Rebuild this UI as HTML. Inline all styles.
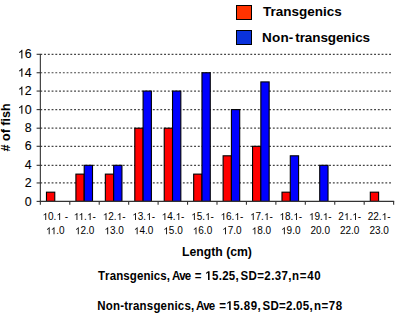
<!DOCTYPE html>
<html><head><meta charset="utf-8"><style>
html,body{margin:0;padding:0;background:#fff;}
body{width:396px;height:313px;overflow:hidden;}
svg{display:block;}
text{font-family:"Liberation Sans",sans-serif;fill:#000;}
.yl{font-size:12.4px;stroke:#000;stroke-width:0.1px;}
.xl{font-size:10px;}
.b{font-weight:bold;}
.h{fill:transparent;stroke:none;}
.o1{fill:#000;stroke:#000;stroke-width:0.12px;}
.o1y{fill:#000;stroke:#000;stroke-width:0.1px;}
.bt{font-size:12.5px;font-kerning:none;}
</style></head><body>
<svg width="396" height="313" viewBox="0 0 396 313">
<rect x="236.5" y="5.5" width="15" height="14" fill="#ff3300" stroke="#000" stroke-width="1"/>
<rect x="236.5" y="30.5" width="15" height="14" fill="#0a32dc" stroke="#000" stroke-width="1"/>
<text x="263.1" y="16" class="b" style="font-size:13.5px">Transgenics</text>
<text x="262" y="42.3" class="b" style="font-size:13.5px;letter-spacing:0.2px">Non-<tspan x="295.3" style="letter-spacing:-0.1px">transgenics</tspan></text>
<text transform="translate(10.2,151.4) rotate(-90)" class="b" style="font-size:12.5px"># of fish</text>
<line x1="40.35" y1="182.95" x2="391.2" y2="182.95" stroke="#444" stroke-width="1.2" stroke-dasharray="1.875 1.875"/>
<line x1="40.35" y1="165.3" x2="391.2" y2="165.3" stroke="#444" stroke-width="1.2" stroke-dasharray="1.875 1.875"/>
<line x1="40.35" y1="146.3" x2="391.2" y2="146.3" stroke="#444" stroke-width="1.2" stroke-dasharray="1.875 1.875"/>
<line x1="40.35" y1="128.2" x2="391.2" y2="128.2" stroke="#444" stroke-width="1.2" stroke-dasharray="1.875 1.875"/>
<line x1="40.35" y1="109.6" x2="391.2" y2="109.6" stroke="#444" stroke-width="1.2" stroke-dasharray="1.875 1.875"/>
<line x1="40.35" y1="91.06" x2="391.2" y2="91.06" stroke="#444" stroke-width="1.2" stroke-dasharray="1.875 1.875"/>
<line x1="40.35" y1="72.75" x2="391.2" y2="72.75" stroke="#444" stroke-width="1.2" stroke-dasharray="1.875 1.875"/>
<line x1="40.35" y1="54.3" x2="391.2" y2="54.3" stroke="#444" stroke-width="1.2" stroke-dasharray="1.875 1.875"/>
<rect x="46.47" y="192.18" width="8.30" height="9.22" fill="#ff0000" stroke="#000" stroke-width="1.1"/>
<rect x="75.91" y="174.12" width="8.30" height="27.28" fill="#ff0000" stroke="#000" stroke-width="1.1"/>
<rect x="84.21" y="165.30" width="8.30" height="36.10" fill="#0000ff" stroke="#000" stroke-width="1.1"/>
<rect x="105.35" y="174.12" width="8.30" height="27.28" fill="#ff0000" stroke="#000" stroke-width="1.1"/>
<rect x="113.65" y="165.30" width="8.30" height="36.10" fill="#0000ff" stroke="#000" stroke-width="1.1"/>
<rect x="134.79" y="128.20" width="8.30" height="73.20" fill="#ff0000" stroke="#000" stroke-width="1.1"/>
<rect x="143.09" y="91.06" width="8.30" height="110.34" fill="#0000ff" stroke="#000" stroke-width="1.1"/>
<rect x="164.23" y="128.20" width="8.30" height="73.20" fill="#ff0000" stroke="#000" stroke-width="1.1"/>
<rect x="172.53" y="91.06" width="8.30" height="110.34" fill="#0000ff" stroke="#000" stroke-width="1.1"/>
<rect x="193.67" y="174.12" width="8.30" height="27.28" fill="#ff0000" stroke="#000" stroke-width="1.1"/>
<rect x="201.97" y="72.75" width="8.30" height="128.65" fill="#0000ff" stroke="#000" stroke-width="1.1"/>
<rect x="223.11" y="155.80" width="8.30" height="45.60" fill="#ff0000" stroke="#000" stroke-width="1.1"/>
<rect x="231.41" y="109.60" width="8.30" height="91.80" fill="#0000ff" stroke="#000" stroke-width="1.1"/>
<rect x="252.55" y="146.30" width="8.30" height="55.10" fill="#ff0000" stroke="#000" stroke-width="1.1"/>
<rect x="260.85" y="81.91" width="8.30" height="119.50" fill="#0000ff" stroke="#000" stroke-width="1.1"/>
<rect x="281.99" y="192.18" width="8.30" height="9.22" fill="#ff0000" stroke="#000" stroke-width="1.1"/>
<rect x="290.29" y="155.80" width="8.30" height="45.60" fill="#0000ff" stroke="#000" stroke-width="1.1"/>
<rect x="319.73" y="165.30" width="8.30" height="36.10" fill="#0000ff" stroke="#000" stroke-width="1.1"/>
<rect x="370.31" y="192.18" width="8.30" height="9.22" fill="#ff0000" stroke="#000" stroke-width="1.1"/>
<line x1="40.35" y1="54" x2="40.35" y2="204.8" stroke="#333" stroke-width="1.1"/>
<line x1="39.85" y1="201.4" x2="394.13" y2="201.4" stroke="#333" stroke-width="1.1"/>
<line x1="36.6" y1="201.4" x2="40.65" y2="201.4" stroke="#333" stroke-width="1.1"/>
<text x="31.6" y="205.50" text-anchor="end" class="yl one">0</text>
<line x1="36.6" y1="182.95" x2="40.65" y2="182.95" stroke="#333" stroke-width="1.1"/>
<text x="31.6" y="187.05" text-anchor="end" class="yl one">2</text>
<line x1="36.6" y1="165.3" x2="40.65" y2="165.3" stroke="#333" stroke-width="1.1"/>
<text x="31.6" y="169.40" text-anchor="end" class="yl one">4</text>
<line x1="36.6" y1="146.3" x2="40.65" y2="146.3" stroke="#333" stroke-width="1.1"/>
<text x="31.6" y="150.40" text-anchor="end" class="yl one">6</text>
<line x1="36.6" y1="128.2" x2="40.65" y2="128.2" stroke="#333" stroke-width="1.1"/>
<text x="31.6" y="132.30" text-anchor="end" class="yl one">8</text>
<line x1="36.6" y1="109.6" x2="40.65" y2="109.6" stroke="#333" stroke-width="1.1"/>
<text x="31.6" y="113.70" text-anchor="end" class="yl one"><tspan class="h">1</tspan>0</text>
<line x1="36.6" y1="91.06" x2="40.65" y2="91.06" stroke="#333" stroke-width="1.1"/>
<text x="31.6" y="95.16" text-anchor="end" class="yl one"><tspan class="h">1</tspan>2</text>
<line x1="36.6" y1="72.75" x2="40.65" y2="72.75" stroke="#333" stroke-width="1.1"/>
<text x="31.6" y="76.85" text-anchor="end" class="yl one"><tspan class="h">1</tspan>4</text>
<line x1="36.6" y1="54.3" x2="40.65" y2="54.3" stroke="#333" stroke-width="1.1"/>
<text x="31.6" y="58.40" text-anchor="end" class="yl one"><tspan class="h">1</tspan>6</text>
<line x1="69.79" y1="201" x2="69.79" y2="204.8" stroke="#333" stroke-width="1.1"/>
<line x1="99.23" y1="201" x2="99.23" y2="204.8" stroke="#333" stroke-width="1.1"/>
<line x1="128.67" y1="201" x2="128.67" y2="204.8" stroke="#333" stroke-width="1.1"/>
<line x1="158.11" y1="201" x2="158.11" y2="204.8" stroke="#333" stroke-width="1.1"/>
<line x1="187.55" y1="201" x2="187.55" y2="204.8" stroke="#333" stroke-width="1.1"/>
<line x1="216.99" y1="201" x2="216.99" y2="204.8" stroke="#333" stroke-width="1.1"/>
<line x1="246.43" y1="201" x2="246.43" y2="204.8" stroke="#333" stroke-width="1.1"/>
<line x1="275.87" y1="201" x2="275.87" y2="204.8" stroke="#333" stroke-width="1.1"/>
<line x1="305.31" y1="201" x2="305.31" y2="204.8" stroke="#333" stroke-width="1.1"/>
<line x1="334.75" y1="201" x2="334.75" y2="204.8" stroke="#333" stroke-width="1.1"/>
<line x1="364.19" y1="201" x2="364.19" y2="204.8" stroke="#333" stroke-width="1.1"/>
<line x1="393.63" y1="201" x2="393.63" y2="204.8" stroke="#333" stroke-width="1.1"/>
<text x="55.27" y="219.9" text-anchor="middle" class="xl one"><tspan class="h">1</tspan>0.<tspan class="h">1</tspan> -</text>
<text x="55.27" y="234.2" text-anchor="middle" class="xl one"><tspan class="h">1</tspan><tspan class="h">1</tspan>.0</text>
<text x="84.71" y="219.9" text-anchor="middle" class="xl one"><tspan class="h">1</tspan><tspan class="h">1</tspan>.<tspan class="h">1</tspan>-</text>
<text x="84.71" y="234.2" text-anchor="middle" class="xl one"><tspan class="h">1</tspan>2.0</text>
<text x="114.15" y="219.9" text-anchor="middle" class="xl one"><tspan class="h">1</tspan>2.<tspan class="h">1</tspan>-</text>
<text x="114.15" y="234.2" text-anchor="middle" class="xl one"><tspan class="h">1</tspan>3.0</text>
<text x="143.59" y="219.9" text-anchor="middle" class="xl one"><tspan class="h">1</tspan>3.<tspan class="h">1</tspan>-</text>
<text x="143.59" y="234.2" text-anchor="middle" class="xl one"><tspan class="h">1</tspan>4.0</text>
<text x="173.03" y="219.9" text-anchor="middle" class="xl one"><tspan class="h">1</tspan>4.<tspan class="h">1</tspan>-</text>
<text x="173.03" y="234.2" text-anchor="middle" class="xl one"><tspan class="h">1</tspan>5.0</text>
<text x="202.47" y="219.9" text-anchor="middle" class="xl one"><tspan class="h">1</tspan>5.<tspan class="h">1</tspan>-</text>
<text x="202.47" y="234.2" text-anchor="middle" class="xl one"><tspan class="h">1</tspan>6.0</text>
<text x="231.91" y="219.9" text-anchor="middle" class="xl one"><tspan class="h">1</tspan>6.<tspan class="h">1</tspan>-</text>
<text x="231.91" y="234.2" text-anchor="middle" class="xl one"><tspan class="h">1</tspan>7.0</text>
<text x="261.35" y="219.9" text-anchor="middle" class="xl one"><tspan class="h">1</tspan>7.<tspan class="h">1</tspan>-</text>
<text x="261.35" y="234.2" text-anchor="middle" class="xl one"><tspan class="h">1</tspan>8.0</text>
<text x="290.79" y="219.9" text-anchor="middle" class="xl one"><tspan class="h">1</tspan>8.<tspan class="h">1</tspan>-</text>
<text x="290.79" y="234.2" text-anchor="middle" class="xl one"><tspan class="h">1</tspan>9.0</text>
<text x="320.23" y="219.9" text-anchor="middle" class="xl one"><tspan class="h">1</tspan>9.<tspan class="h">1</tspan>-</text>
<text x="320.23" y="234.2" text-anchor="middle" class="xl one">20.0</text>
<text x="349.67" y="219.9" text-anchor="middle" class="xl one">2<tspan class="h">1</tspan>.<tspan class="h">1</tspan>-</text>
<text x="349.67" y="234.2" text-anchor="middle" class="xl one">22.0</text>
<text x="379.11" y="219.9" text-anchor="middle" class="xl one">22.<tspan class="h">1</tspan>-</text>
<text x="379.11" y="234.2" text-anchor="middle" class="xl one">23.0</text>
<path class="o1y" transform="translate(17.79,113.70) scale(0.00605,-0.00580)" d="M763 0H583V1147Q518 1085 412 1023Q306 961 222 930V1104Q373 1175 486 1276Q599 1377 646 1472H763Z"/>
<path class="o1y" transform="translate(17.79,95.16) scale(0.00605,-0.00580)" d="M763 0H583V1147Q518 1085 412 1023Q306 961 222 930V1104Q373 1175 486 1276Q599 1377 646 1472H763Z"/>
<path class="o1y" transform="translate(17.79,76.85) scale(0.00605,-0.00580)" d="M763 0H583V1147Q518 1085 412 1023Q306 961 222 930V1104Q373 1175 486 1276Q599 1377 646 1472H763Z"/>
<path class="o1y" transform="translate(17.79,58.40) scale(0.00605,-0.00580)" d="M763 0H583V1147Q518 1085 412 1023Q306 961 222 930V1104Q373 1175 486 1276Q599 1377 646 1472H763Z"/>
<path class="o1" transform="translate(42.48,219.90) scale(0.00488,-0.00467)" d="M763 0H583V1147Q518 1085 412 1023Q306 961 222 930V1104Q373 1175 486 1276Q599 1377 646 1472H763Z"/>
<path class="o1" transform="translate(56.39,219.90) scale(0.00488,-0.00467)" d="M763 0H583V1147Q518 1085 412 1023Q306 961 222 930V1104Q373 1175 486 1276Q599 1377 646 1472H763Z"/>
<path class="o1" transform="translate(45.90,234.20) scale(0.00488,-0.00467)" d="M763 0H583V1147Q518 1085 412 1023Q306 961 222 930V1104Q373 1175 486 1276Q599 1377 646 1472H763Z"/>
<path class="o1" transform="translate(50.73,234.20) scale(0.00488,-0.00467)" d="M763 0H583V1147Q518 1085 412 1023Q306 961 222 930V1104Q373 1175 486 1276Q599 1377 646 1472H763Z"/>
<path class="o1" transform="translate(73.67,219.90) scale(0.00488,-0.00467)" d="M763 0H583V1147Q518 1085 412 1023Q306 961 222 930V1104Q373 1175 486 1276Q599 1377 646 1472H763Z"/>
<path class="o1" transform="translate(78.50,219.90) scale(0.00488,-0.00467)" d="M763 0H583V1147Q518 1085 412 1023Q306 961 222 930V1104Q373 1175 486 1276Q599 1377 646 1472H763Z"/>
<path class="o1" transform="translate(86.84,219.90) scale(0.00488,-0.00467)" d="M763 0H583V1147Q518 1085 412 1023Q306 961 222 930V1104Q373 1175 486 1276Q599 1377 646 1472H763Z"/>
<path class="o1" transform="translate(74.98,234.20) scale(0.00488,-0.00467)" d="M763 0H583V1147Q518 1085 412 1023Q306 961 222 930V1104Q373 1175 486 1276Q599 1377 646 1472H763Z"/>
<path class="o1" transform="translate(102.74,219.90) scale(0.00488,-0.00467)" d="M763 0H583V1147Q518 1085 412 1023Q306 961 222 930V1104Q373 1175 486 1276Q599 1377 646 1472H763Z"/>
<path class="o1" transform="translate(116.65,219.90) scale(0.00488,-0.00467)" d="M763 0H583V1147Q518 1085 412 1023Q306 961 222 930V1104Q373 1175 486 1276Q599 1377 646 1472H763Z"/>
<path class="o1" transform="translate(104.42,234.20) scale(0.00488,-0.00467)" d="M763 0H583V1147Q518 1085 412 1023Q306 961 222 930V1104Q373 1175 486 1276Q599 1377 646 1472H763Z"/>
<path class="o1" transform="translate(132.18,219.90) scale(0.00488,-0.00467)" d="M763 0H583V1147Q518 1085 412 1023Q306 961 222 930V1104Q373 1175 486 1276Q599 1377 646 1472H763Z"/>
<path class="o1" transform="translate(146.09,219.90) scale(0.00488,-0.00467)" d="M763 0H583V1147Q518 1085 412 1023Q306 961 222 930V1104Q373 1175 486 1276Q599 1377 646 1472H763Z"/>
<path class="o1" transform="translate(133.86,234.20) scale(0.00488,-0.00467)" d="M763 0H583V1147Q518 1085 412 1023Q306 961 222 930V1104Q373 1175 486 1276Q599 1377 646 1472H763Z"/>
<path class="o1" transform="translate(161.62,219.90) scale(0.00488,-0.00467)" d="M763 0H583V1147Q518 1085 412 1023Q306 961 222 930V1104Q373 1175 486 1276Q599 1377 646 1472H763Z"/>
<path class="o1" transform="translate(175.53,219.90) scale(0.00488,-0.00467)" d="M763 0H583V1147Q518 1085 412 1023Q306 961 222 930V1104Q373 1175 486 1276Q599 1377 646 1472H763Z"/>
<path class="o1" transform="translate(163.30,234.20) scale(0.00488,-0.00467)" d="M763 0H583V1147Q518 1085 412 1023Q306 961 222 930V1104Q373 1175 486 1276Q599 1377 646 1472H763Z"/>
<path class="o1" transform="translate(191.06,219.90) scale(0.00488,-0.00467)" d="M763 0H583V1147Q518 1085 412 1023Q306 961 222 930V1104Q373 1175 486 1276Q599 1377 646 1472H763Z"/>
<path class="o1" transform="translate(204.97,219.90) scale(0.00488,-0.00467)" d="M763 0H583V1147Q518 1085 412 1023Q306 961 222 930V1104Q373 1175 486 1276Q599 1377 646 1472H763Z"/>
<path class="o1" transform="translate(192.74,234.20) scale(0.00488,-0.00467)" d="M763 0H583V1147Q518 1085 412 1023Q306 961 222 930V1104Q373 1175 486 1276Q599 1377 646 1472H763Z"/>
<path class="o1" transform="translate(220.50,219.90) scale(0.00488,-0.00467)" d="M763 0H583V1147Q518 1085 412 1023Q306 961 222 930V1104Q373 1175 486 1276Q599 1377 646 1472H763Z"/>
<path class="o1" transform="translate(234.41,219.90) scale(0.00488,-0.00467)" d="M763 0H583V1147Q518 1085 412 1023Q306 961 222 930V1104Q373 1175 486 1276Q599 1377 646 1472H763Z"/>
<path class="o1" transform="translate(222.18,234.20) scale(0.00488,-0.00467)" d="M763 0H583V1147Q518 1085 412 1023Q306 961 222 930V1104Q373 1175 486 1276Q599 1377 646 1472H763Z"/>
<path class="o1" transform="translate(249.94,219.90) scale(0.00488,-0.00467)" d="M763 0H583V1147Q518 1085 412 1023Q306 961 222 930V1104Q373 1175 486 1276Q599 1377 646 1472H763Z"/>
<path class="o1" transform="translate(263.85,219.90) scale(0.00488,-0.00467)" d="M763 0H583V1147Q518 1085 412 1023Q306 961 222 930V1104Q373 1175 486 1276Q599 1377 646 1472H763Z"/>
<path class="o1" transform="translate(251.62,234.20) scale(0.00488,-0.00467)" d="M763 0H583V1147Q518 1085 412 1023Q306 961 222 930V1104Q373 1175 486 1276Q599 1377 646 1472H763Z"/>
<path class="o1" transform="translate(279.38,219.90) scale(0.00488,-0.00467)" d="M763 0H583V1147Q518 1085 412 1023Q306 961 222 930V1104Q373 1175 486 1276Q599 1377 646 1472H763Z"/>
<path class="o1" transform="translate(293.29,219.90) scale(0.00488,-0.00467)" d="M763 0H583V1147Q518 1085 412 1023Q306 961 222 930V1104Q373 1175 486 1276Q599 1377 646 1472H763Z"/>
<path class="o1" transform="translate(281.06,234.20) scale(0.00488,-0.00467)" d="M763 0H583V1147Q518 1085 412 1023Q306 961 222 930V1104Q373 1175 486 1276Q599 1377 646 1472H763Z"/>
<path class="o1" transform="translate(308.82,219.90) scale(0.00488,-0.00467)" d="M763 0H583V1147Q518 1085 412 1023Q306 961 222 930V1104Q373 1175 486 1276Q599 1377 646 1472H763Z"/>
<path class="o1" transform="translate(322.73,219.90) scale(0.00488,-0.00467)" d="M763 0H583V1147Q518 1085 412 1023Q306 961 222 930V1104Q373 1175 486 1276Q599 1377 646 1472H763Z"/>
<path class="o1" transform="translate(343.83,219.90) scale(0.00488,-0.00467)" d="M763 0H583V1147Q518 1085 412 1023Q306 961 222 930V1104Q373 1175 486 1276Q599 1377 646 1472H763Z"/>
<path class="o1" transform="translate(352.17,219.90) scale(0.00488,-0.00467)" d="M763 0H583V1147Q518 1085 412 1023Q306 961 222 930V1104Q373 1175 486 1276Q599 1377 646 1472H763Z"/>
<path class="o1" transform="translate(381.61,219.90) scale(0.00488,-0.00467)" d="M763 0H583V1147Q518 1085 412 1023Q306 961 222 930V1104Q373 1175 486 1276Q599 1377 646 1472H763Z"/>
<text transform="translate(217,255.6) scale(0.955,1)" text-anchor="middle" class="b" style="font-size:12.8px">Length (cm)</text>
<text transform="translate(0,279.9) scale(0.92,1)" class="b bt" x="106.49 114.24 119.22 126.28 134.03 141.10 148.85 155.92 163.67 167.25 174.32 181.39 186.86 194.90 200.87 211.71 223.17 230.42 237.67 241.45 248.70 255.95 261.38 270.15 279.61 287.34 294.72 298.63 306.01 313.40 317.44 325.87 333.96 341.71" y="0">Transgenics,Ave=<tspan class="h">1</tspan>5.25,SD=2.37,n=40</text>
<path transform="translate(0,279.9) scale(0.92,1) translate(223.17,0) scale(0.00610,-0.00610)" d="M759 0H478V1170L140 959V1180L493 1409H759Z"/>
<text transform="translate(0,309.9) scale(0.92,1)" class="b bt" x="105.79 115.03 122.88 130.72 135.10 139.47 144.55 151.71 159.55 166.72 174.56 181.73 189.57 193.26 200.42 207.58 213.06 220.99 226.84 238.34 246.13 253.57 261.02 264.98 272.42 279.86 285.29 293.93 303.26 310.86 318.11 321.88 329.13 336.39 341.35 349.56 357.43 364.95" y="0">Non-transgenics,Ave=<tspan class="h">1</tspan>5.89,SD=2.05,n=78</text>
<path transform="translate(0,309.9) scale(0.92,1) translate(246.13,0) scale(0.00610,-0.00610)" d="M759 0H478V1170L140 959V1180L493 1409H759Z"/>
</svg>
</body></html>
